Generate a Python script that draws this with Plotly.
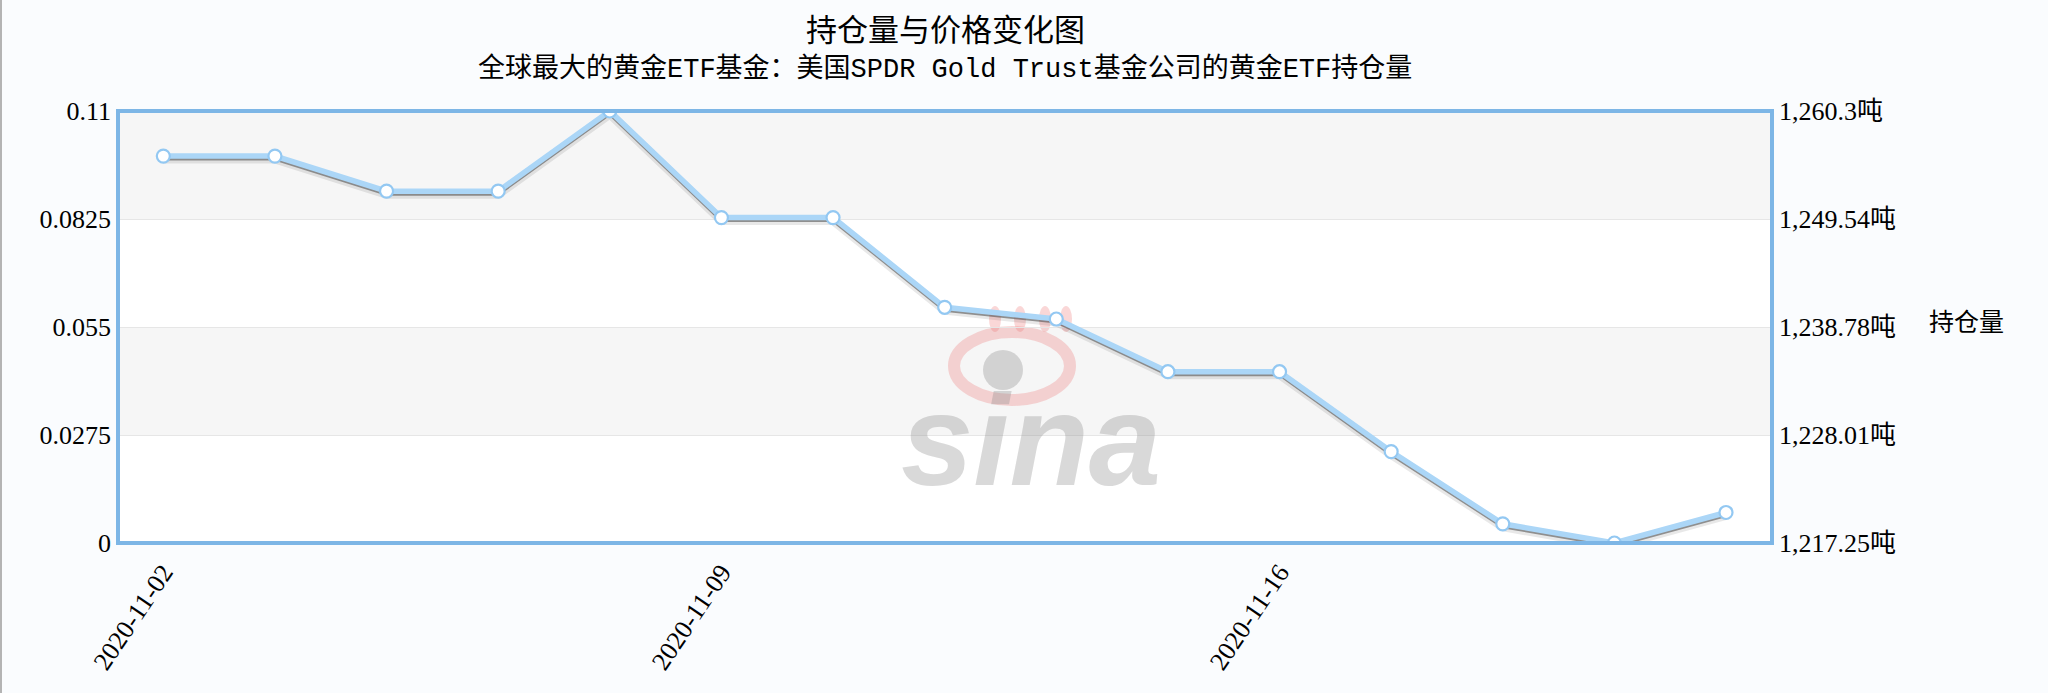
import plotly.graph_objects as go

# ---------------- data ----------------
DATES = ["2020-11-02", "2020-11-03", "2020-11-04", "2020-11-05", "2020-11-06",
         "2020-11-09", "2020-11-10", "2020-11-11", "2020-11-12", "2020-11-13",
         "2020-11-16", "2020-11-17", "2020-11-18", "2020-11-19", "2020-11-20"]
HOLDINGS = [1255.81, 1255.81, 1252.31, 1252.31, 1260.30,
            1249.68, 1249.68, 1240.74, 1239.57, 1234.32,
            1234.32, 1226.36, 1219.16, 1217.25, 1220.29]
X_TICK_DATES = ["2020-11-02", "2020-11-09", "2020-11-16"]
LEFT_TICKS = [0, 0.0275, 0.055, 0.0825, 0.11]
LEFT_TICK_TEXT = ["0", "0.0275", "0.055", "0.0825", "0.11"]
RIGHT_TICKS = [1217.25, 1228.01, 1238.78, 1249.54, 1260.3]
RIGHT_TICK_TEXT = ["1,217.25吨", "1,228.01吨", "1,238.78吨", "1,249.54吨", "1,260.3吨"]

TITLE = "持仓量与价格变化图"
SUBTITLE = "全球最大的黄金ETF基金：美国SPDR Gold Trust基金公司的黄金ETF持仓量"
Y2_TITLE = "持仓量"

# ---------------- layout constants ----------------
W, H = 2048, 693
ML, MR, MT, MB = 118, 276, 111, 150
PW, PH = W - ML - MR, H - MT - MB

def px_x(p):
    return (p - ML) / PW

def px_y(p):
    return (H - MB - p) / PH

x_idx = list(range(len(DATES)))
tickvals = [DATES.index(d) for d in X_TICK_DATES]

r2 = [RIGHT_TICKS[0], RIGHT_TICKS[-1]]
units_per_px = (r2[1] - r2[0]) / PH

SERIF = "'Liberation Serif', 'Noto Sans CJK SC', serif"
CJK = "'Noto Sans CJK SC', 'Liberation Serif', sans-serif"

fig = go.Figure()

# dummy trace for left axis
fig.add_trace(go.Scatter(x=x_idx, y=[None] * len(x_idx), yaxis="y",
                         showlegend=False, hoverinfo="skip"))

# shadows
fig.add_trace(go.Scatter(x=x_idx, y=[v - 3 * units_per_px for v in HOLDINGS], yaxis="y2",
                         mode="lines", line=dict(color="rgba(0,0,0,0.09)", width=9),
                         showlegend=False, hoverinfo="skip"))
fig.add_trace(go.Scatter(x=x_idx, y=[v - 2.5 * units_per_px for v in HOLDINGS], yaxis="y2",
                         mode="lines", line=dict(color="rgba(70,70,70,0.55)", width=4),
                         showlegend=False, hoverinfo="skip"))
# main line
fig.add_trace(go.Scatter(x=x_idx, y=HOLDINGS, yaxis="y2", mode="lines+markers",
                         name="持仓量",
                         line=dict(color="#abd6f7", width=5.5),
                         marker=dict(size=13, color="white",
                                     line=dict(color="#93c8f2", width=2.2)),
                         showlegend=False))

shapes = []
# alternating bands
for lo, hi in [(0.0825, 0.11), (0.0275, 0.055)]:
    shapes.append(dict(type="rect", xref="paper", yref="y", x0=0, x1=1, y0=lo, y1=hi,
                       fillcolor="#f6f6f6", line=dict(width=0), layer="below"))
# watermark eye
shapes.append(dict(type="circle", xref="paper", yref="paper",
                   x0=px_x(954), x1=px_x(1070), y0=px_y(400), y1=px_y(332),
                   line=dict(color="rgba(238,110,110,0.28)", width=12), layer="below"))
shapes.append(dict(type="circle", xref="paper", yref="paper",
                   x0=px_x(983), x1=px_x(1023), y0=px_y(390), y1=px_y(350),
                   fillcolor="rgba(120,120,120,0.28)", line=dict(width=0), layer="below"))
for cx in [995, 1020, 1045, 1066]:
    shapes.append(dict(type="circle", xref="paper", yref="paper",
                       x0=px_x(cx - 6), x1=px_x(cx + 6), y0=px_y(332), y1=px_y(306),
                       fillcolor="rgba(238,110,110,0.28)", line=dict(width=0), layer="below"))
# plot border
shapes.append(dict(type="rect", xref="paper", yref="paper", x0=0, x1=1, y0=0, y1=1,
                   line=dict(color="#7db6e6", width=4), layer="above"))
# page left edge line
shapes.append(dict(type="line", xref="paper", yref="paper",
                   x0=px_x(1), x1=px_x(1), y0=px_y(0), y1=px_y(H),
                   line=dict(color="#b4b4b4", width=2)))

annotations = [
    dict(text=TITLE, xref="paper", yref="paper", x=0.5, y=px_y(27), xanchor="center",
         yanchor="middle", showarrow=False, font=dict(size=31, color="#000", family=CJK)),
    dict(text=SUBTITLE, xref="paper", yref="paper", x=0.5, y=px_y(69), xanchor="center",
         yanchor="middle", showarrow=False,
         font=dict(size=27, color="#000", family="'Liberation Mono', 'Noto Sans CJK SC', monospace")),
    dict(text=Y2_TITLE, xref="paper", yref="paper", x=px_x(1966), y=px_y(320),
         xanchor="center", yanchor="middle", showarrow=False,
         font=dict(size=25, color="#000", family=CJK)),
    dict(text="<b><i>sina</i></b>", xref="paper", yref="paper", x=px_x(1031), y=px_y(440),
         xanchor="center", yanchor="middle", showarrow=False,
         font=dict(size=130, color="rgba(140,140,140,0.33)", family="'Liberation Sans', Arial, sans-serif")),
]

fig.update_layout(
    width=W, height=H,
    margin=dict(l=ML, r=MR, t=MT, b=MB, pad=0),
    paper_bgcolor="#fafcfe",
    plot_bgcolor="#ffffff",
    showlegend=False,
    shapes=shapes,
    annotations=annotations,
    xaxis=dict(range=[-0.406, len(DATES) - 1 + 0.412], tickmode="array",
               tickvals=tickvals, ticktext=X_TICK_DATES, tickangle=-56,
               showgrid=False, zeroline=False, showline=False, ticks="",
               ticklabelstandoff=8,
               tickfont=dict(family=SERIF, size=26, color="#000")),
    yaxis=dict(range=[LEFT_TICKS[0], LEFT_TICKS[-1]], tickmode="array",
               tickvals=LEFT_TICKS, ticktext=LEFT_TICK_TEXT,
               showgrid=True, gridcolor="#e6e6e6", gridwidth=1, zeroline=False,
               showline=False, ticks="", ticklabelstandoff=6,
               tickfont=dict(family=SERIF, size=26, color="#000")),
    yaxis2=dict(range=r2, overlaying="y", side="right", tickmode="array",
                tickvals=RIGHT_TICKS, ticktext=RIGHT_TICK_TEXT,
                showgrid=False, zeroline=False, showline=False, ticks="",
                ticklabelstandoff=6,
                tickfont=dict(family=SERIF, size=26, color="#000")),
)

fig.write_html("out.html", config={"displayModeBar": False},
               post_script="document.body.style.margin='0px';")
